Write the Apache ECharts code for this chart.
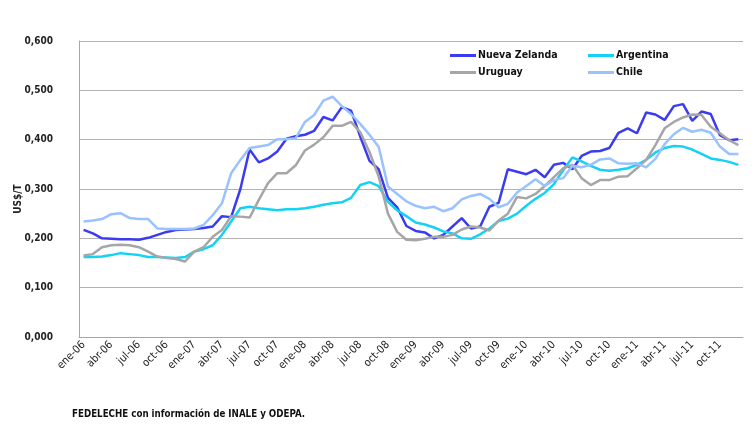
<!DOCTYPE html>
<html>
<head>
<meta charset="utf-8">
<script src="https://cdn.jsdelivr.net/npm/echarts@6/dist/echarts.min.js"></script>
<style>
  html, body { margin: 0; padding: 0; background: #fff; }
  #chart { width: 756px; height: 427px; }
</style>
</head>
<body>
<div id="chart"></div>
<script>
// meses ene-06 .. dic-11
const mesesCortos = ['ene', 'feb', 'mar', 'abr', 'may', 'jun', 'jul', 'ago', 'sep', 'oct', 'nov', 'dic'];
const anios = ['06', '07', '08', '09', '10', '11'];
const categorias = [];
anios.forEach(a => mesesCortos.forEach(m => categorias.push(m + '-' + a)));

const nuevaZelanda = [
  0.217, 0.210, 0.200, 0.199, 0.198, 0.198, 0.197, 0.201, 0.207, 0.213, 0.217, 0.218,
  0.219, 0.221, 0.224, 0.245, 0.243, 0.300, 0.380, 0.354, 0.362, 0.376, 0.402, 0.407,
  0.410, 0.418, 0.446, 0.439, 0.466, 0.459, 0.406, 0.357, 0.340, 0.282, 0.263, 0.225,
  0.215, 0.212, 0.200, 0.207, 0.224, 0.241, 0.220, 0.224, 0.264, 0.272, 0.340, 0.335,
  0.330, 0.339, 0.324, 0.349, 0.353, 0.340, 0.367, 0.376, 0.377, 0.383, 0.414, 0.423,
  0.413, 0.455, 0.451, 0.440, 0.468, 0.472, 0.438, 0.457, 0.452, 0.409, 0.399, 0.401
];
const argentina = [
  0.162, 0.162, 0.163, 0.166, 0.170, 0.168, 0.166, 0.162, 0.162, 0.161, 0.160, 0.162,
  0.173, 0.178, 0.186, 0.207, 0.234, 0.261, 0.264, 0.261, 0.259, 0.257, 0.259, 0.259,
  0.261, 0.264, 0.268, 0.271, 0.273, 0.282, 0.308, 0.314, 0.306, 0.274, 0.257, 0.245,
  0.232, 0.228, 0.222, 0.214, 0.210, 0.200, 0.199, 0.208, 0.220, 0.235, 0.240, 0.250,
  0.266, 0.280, 0.292, 0.310, 0.338, 0.364, 0.356, 0.347, 0.339, 0.337, 0.339, 0.342,
  0.349, 0.359, 0.374, 0.383, 0.387, 0.386, 0.380, 0.371, 0.362, 0.359, 0.355, 0.349
];
const uruguay = [
  0.165, 0.168, 0.182, 0.186, 0.187, 0.186, 0.182, 0.173, 0.163, 0.160, 0.158, 0.153,
  0.173, 0.182, 0.203, 0.217, 0.245, 0.244, 0.242, 0.278, 0.312, 0.332, 0.332, 0.348,
  0.378, 0.390, 0.405, 0.428, 0.428, 0.436, 0.415, 0.375, 0.325, 0.250, 0.213, 0.197,
  0.196, 0.199, 0.203, 0.203, 0.207, 0.218, 0.224, 0.222, 0.216, 0.236, 0.250, 0.284,
  0.281, 0.290, 0.306, 0.324, 0.342, 0.349, 0.322, 0.308, 0.318, 0.318, 0.325, 0.326,
  0.342, 0.359, 0.389, 0.423, 0.436, 0.445, 0.451, 0.450, 0.426, 0.413, 0.399, 0.389
];
const chile = [
  0.234, 0.236, 0.239, 0.249, 0.251, 0.241, 0.239, 0.239, 0.220, 0.219, 0.219, 0.219,
  0.220, 0.227, 0.247, 0.271, 0.332, 0.359, 0.383, 0.386, 0.389, 0.401, 0.401, 0.403,
  0.436, 0.450, 0.479, 0.487, 0.468, 0.452, 0.432, 0.410, 0.385, 0.305, 0.290, 0.275,
  0.266, 0.261, 0.264, 0.255, 0.261, 0.279, 0.286, 0.290, 0.280, 0.263, 0.270, 0.293,
  0.306, 0.320, 0.306, 0.318, 0.322, 0.347, 0.344, 0.349, 0.360, 0.362, 0.352, 0.351,
  0.352, 0.344, 0.361, 0.391, 0.411, 0.424, 0.416, 0.420, 0.414, 0.386, 0.371, 0.371
];

const fuente = "'Liberation Sans Narrow', 'DejaVu Sans Condensed', 'Noto Sans', sans-serif";

const chart = echarts.init(document.getElementById('chart'));

function leyenda(nombre, left, top) {
  return {
    data: [nombre],
    left: left,
    top: top,
    padding: 0,
    icon: 'rect',
    itemWidth: 26,
    itemHeight: 3,
    selectedMode: false,
    textStyle: { fontFamily: fuente, fontSize: 10.5, fontWeight: 'bold', color: '#111', padding: [0, 0, 0, -3] }
  };
}

function serie(nombre, datos, color) {
  return {
    name: nombre,
    type: 'line',
    data: datos,
    symbol: 'none',
    smooth: false,
    lineStyle: { color: color, width: 2.5 },
    itemStyle: { color: color }
  };
}

const option = {
  animation: false,
  textStyle: { fontFamily: fuente },
  grid: { left: 79, right: 13, top: 41, bottom: 90, containLabel: false },
  legend: [
    leyenda('Nueva Zelanda', 450, 50),
    leyenda('Argentina', 588, 50),
    leyenda('Uruguay', 450, 67),
    leyenda('Chile', 588, 67)
  ],
  xAxis: {
    type: 'category',
    data: categorias,
    boundaryGap: true,
    axisLine: { lineStyle: { color: '#a6a6a6', width: 1 } },
    axisTick: { show: false },
    axisLabel: {
      interval: 2,
      rotate: 45,
      margin: 6,
      fontFamily: fuente,
      fontSize: 11,
      color: '#222'
    },
    splitLine: { show: false }
  },
  yAxis: {
    type: 'value',
    min: 0,
    max: 0.6,
    interval: 0.1,
    axisLine: { show: true, lineStyle: { color: '#a6a6a6', width: 1 } },
    axisTick: { show: false },
    axisLabel: {
      margin: 26,
      fontFamily: fuente,
      fontSize: 10,
      fontWeight: 'bold',
      color: '#222',
      formatter: v => v.toFixed(3).replace('.', ',')
    },
    splitLine: { lineStyle: { color: '#b3b3b3', width: 1 } }
  },
  graphic: [
    {
      type: 'text',
      x: 18,
      y: 199,
      rotation: Math.PI / 2,
      style: {
        text: 'US$/T',
        fontFamily: fuente,
        fontSize: 10,
        fontWeight: 'bold',
        fill: '#222',
        align: 'center',
        verticalAlign: 'middle'
      }
    },
    {
      type: 'text',
      x: 72,
      y: 414,
      scaleX: 0.88,
      style: {
        text: 'FEDELECHE con información de INALE y ODEPA.',
        fontFamily: fuente,
        fontSize: 11,
        fontWeight: 'bold',
        fill: '#111',
        align: 'left',
        verticalAlign: 'middle'
      }
    }
  ],
  series: [
    serie('Nueva Zelanda', nuevaZelanda, '#3b3bf2'),
    serie('Argentina', argentina, '#14d2f5'),
    serie('Uruguay', uruguay, '#a6a6a6'),
    serie('Chile', chile, '#99c2ff')
  ]
};

chart.setOption(option);
</script>
</body>
</html>
